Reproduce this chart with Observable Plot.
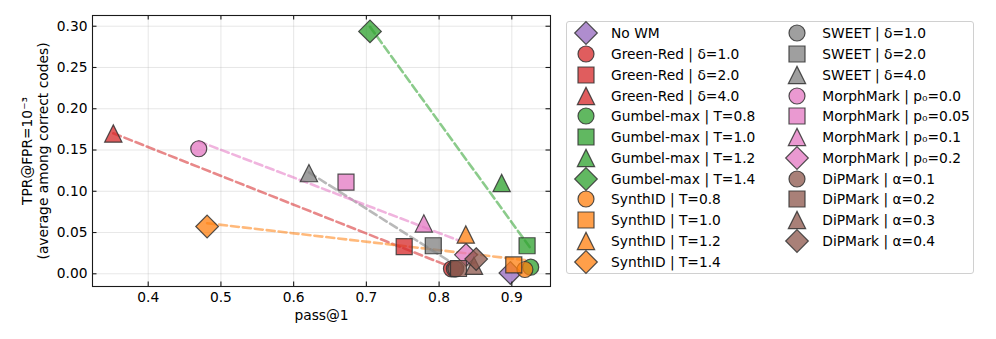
<!DOCTYPE html>
<html>
<head>
<meta charset="utf-8">
<script src="https://cdn.jsdelivr.net/npm/d3@7"></script>
<script src="https://cdn.jsdelivr.net/npm/@observablehq/plot@0.6"></script>
<style>
  html, body { margin: 0; padding: 0; background: #fff; }
  #wrap { position: relative; width: 996px; height: 339px; font-family: "DejaVu Sans", sans-serif; color: #000; }
  #chart { position: absolute; left: 0; top: 0; }
  #legend { position: absolute; left: 566px; top: 21px; width: 408px; height: 253px;
            border: 1px solid #d0d0d0; border-radius: 3px; box-sizing: border-box; }
  #legend .item { position: absolute; height: 20px; font-size: 13.8px; line-height: 20px; white-space: nowrap; }
  #legend svg { position: absolute; overflow: visible; }
</style>
</head>
<body>
<div id="wrap"><div id="chart"></div><div id="legend"></div></div>
<script>
// ---- data ----
const methodNames = ["No WM", "Green-Red", "Gumbel-max", "SynthID", "SWEET", "MorphMark", "DiPMark"];
const methodColors = ["#9467bd", "#d62728", "#2ca02c", "#ff7f0e", "#7f7f7f", "#e377c2", "#8c564b"];

const labels = [
  "No WM",
  "Green-Red | δ=1.0", "Green-Red | δ=2.0", "Green-Red | δ=4.0",
  "Gumbel-max | T=0.8", "Gumbel-max | T=1.0", "Gumbel-max | T=1.2", "Gumbel-max | T=1.4",
  "SynthID | T=0.8", "SynthID | T=1.0", "SynthID | T=1.2", "SynthID | T=1.4",
  "SWEET | δ=1.0", "SWEET | δ=2.0", "SWEET | δ=4.0",
  "MorphMark | p₀=0.0", "MorphMark | p₀=0.05", "MorphMark | p₀=0.1", "MorphMark | p₀=0.2",
  "DiPMark | α=0.1", "DiPMark | α=0.2", "DiPMark | α=0.3", "DiPMark | α=0.4"
];
const methods = [
  "No WM",
  "Green-Red", "Green-Red", "Green-Red",
  "Gumbel-max", "Gumbel-max", "Gumbel-max", "Gumbel-max",
  "SynthID", "SynthID", "SynthID", "SynthID",
  "SWEET", "SWEET", "SWEET",
  "MorphMark", "MorphMark", "MorphMark", "MorphMark",
  "DiPMark", "DiPMark", "DiPMark", "DiPMark"
];
const shapes = [
  "diamond",
  "circle", "square", "triangle",
  "circle", "square", "triangle", "diamond",
  "circle", "square", "triangle", "diamond",
  "circle", "square", "triangle",
  "circle", "square", "triangle", "diamond",
  "circle", "square", "triangle", "diamond"
];
const pass1 = [
  0.898,
  0.817, 0.752, 0.352,
  0.926, 0.921, 0.886, 0.705,
  0.918, 0.9027, 0.8367, 0.481,
  0.821, 0.792, 0.621,
  0.4695, 0.672, 0.779, 0.837,
  0.823, 0.8267, 0.848, 0.851
];
const tpr = [
  0.001,
  0.006, 0.033, 0.170,
  0.008, 0.034, 0.110, 0.2937,
  0.0052, 0.0107, 0.0476, 0.0573,
  0.006, 0.034, 0.122,
  0.1515, 0.111, 0.061, 0.023,
  0.006, 0.0064, 0.0097, 0.0178
];
const xTicks = [0.4, 0.5, 0.6, 0.7, 0.8, 0.9];
const yTicks = [0.00, 0.05, 0.10, 0.15, 0.20, 0.25, 0.30];

// ---- symbols (matplotlib-like markers) ----
function mk(fn) { return { draw(ctx, size) { fn(ctx, Math.sqrt(size / Math.PI)); } }; }
const SYM = {
  circle: mk((c, r) => { c.moveTo(r, 0); c.arc(0, 0, r, 0, 2 * Math.PI); c.closePath(); }),
  square: mk((c, r) => { c.moveTo(-r, -r); c.lineTo(r, -r); c.lineTo(r, r); c.lineTo(-r, r); c.closePath(); }),
  triangle: mk((c, r) => { c.moveTo(0, -r * 1.08); c.lineTo(r * 1.08, r * 1.08); c.lineTo(-r * 1.08, r * 1.08); c.closePath(); }),
  diamond: mk((c, r) => { const d = r * 1.414; c.moveTo(0, -d); c.lineTo(d, 0); c.lineTo(0, d); c.lineTo(-d, 0); c.closePath(); })
};
const colorOf = m => methodColors[methodNames.indexOf(m)];

const points = labels.map((label, i) => ({label, method: methods[i], shape: shapes[i], x: pass1[i], y: tpr[i]}));

// ---- layout ----
const W = 560, H = 339, mL = 92, mR = 10, mT = 15, mB = 53;
const iw = W - mL - mR, ih = H - mT - mB, tk = 4.5;
const axisColor = "#1a1a1a";

const markStyle = {stroke: "#333", strokeWidth: 1.2, strokeOpacity: 0.85, fillOpacity: 0.75, r: 8};

const chart = Plot.plot({
  width: W, height: H,
  marginLeft: mL, marginRight: mR, marginTop: mT, marginBottom: mB,
  style: {fontFamily: "DejaVu Sans, sans-serif", fontSize: "13.8px", color: "#000", background: "#fff", overflow: "visible"},
  x: {domain: [0.3234, 0.9532]},
  y: {domain: [-0.0154, 0.313]},
  color: {domain: methodNames, range: methodColors},
  marks: [
    Plot.gridX(xTicks, {stroke: "#b0b0b0", strokeOpacity: 0.3, strokeWidth: 1}),
    Plot.gridY(yTicks, {stroke: "#b0b0b0", strokeOpacity: 0.3, strokeWidth: 1}),
    Plot.linearRegressionY(points.filter(d => d.method !== "No WM"), {
      x: "x", y: "y", stroke: "method", ci: 0,
      strokeWidth: 2.6, strokeOpacity: 0.55, strokeDasharray: "8,4"
    }),
    ...points.map(p => Plot.dot([p], {x: "x", y: "y", symbol: SYM[p.shape], fill: colorOf(p.method), ...markStyle})),
    // inward ticks on all four sides
    Plot.tickX(xTicks, {x: d => d, insetTop: ih - tk, stroke: axisColor, strokeWidth: 1.1}),
    Plot.tickX(xTicks, {x: d => d, insetBottom: ih - tk, stroke: axisColor, strokeWidth: 1.1}),
    Plot.tickY(yTicks, {y: d => d, insetRight: iw - tk, stroke: axisColor, strokeWidth: 1.1}),
    Plot.tickY(yTicks, {y: d => d, insetLeft: iw - tk, stroke: axisColor, strokeWidth: 1.1}),
    Plot.axisX(xTicks, {tickSize: 0, tickPadding: 6, tickFormat: d3.format(".1f"), label: null}),
    Plot.axisY(yTicks, {tickSize: 0, tickPadding: 5, tickFormat: d3.format(".2f"), label: null}),
    Plot.frame({stroke: axisColor, strokeWidth: 1.1}),
    Plot.text(["pass@1"], {text: d => d, frameAnchor: "bottom", lineAnchor: "middle", dy: 29, fontSize: 13.8}),
    Plot.text(["TPR@FPR=10⁻³"], {text: d => d, frameAnchor: "left", textAnchor: "middle", lineAnchor: "middle", rotate: -90, dx: -65, fontSize: 13.8}),
    Plot.text(["(average among correct codes)"], {text: d => d, frameAnchor: "left", textAnchor: "middle", lineAnchor: "middle", rotate: -90, dx: -48.5, fontSize: 13.8})
  ]
});
document.getElementById("chart").appendChild(chart);

// ---- legend (two columns, column-major like matplotlib) ----
const legend = document.getElementById("legend");
const perCol = 12, rowGap = 20.76, row0 = 33.3 - 21, colMarker = [585.7 - 566, 796.7 - 566], colText = [611 - 566, 822.3 - 566];
points.forEach((p, i) => {
  const col = i < perCol ? 0 : 1, row = i < perCol ? i : i - perCol;
  const cy = row0 + row * rowGap;
  const svg = d3.select(legend).append("svg")
    .attr("width", 30).attr("height", 30)
    .style("left", (colMarker[col] - 15 - 1) + "px").style("top", (cy - 15 - 1) + "px");
  const path = d3.path();
  SYM[p.shape].draw(path, 64 * Math.PI);
  svg.append("path").attr("d", path.toString()).attr("transform", "translate(15,15)")
    .attr("fill", colorOf(p.method)).attr("fill-opacity", markStyle.fillOpacity)
    .attr("stroke", markStyle.stroke).attr("stroke-width", markStyle.strokeWidth).attr("stroke-opacity", markStyle.strokeOpacity);
  const div = document.createElement("div");
  div.className = "item";
  div.textContent = p.label;
  div.style.left = (colText[col] - 1) + "px";
  div.style.top = (cy - 10 - 1) + "px";
  legend.appendChild(div);
});
</script>
</body>
</html>
